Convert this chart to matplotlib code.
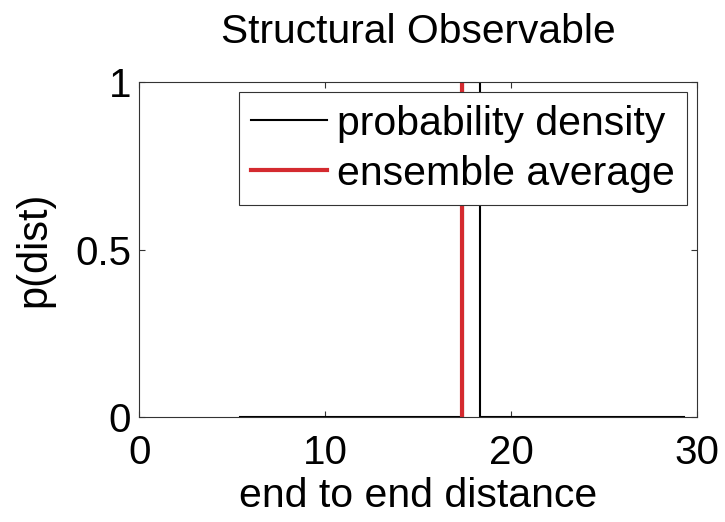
import matplotlib
matplotlib.use("Agg")
import matplotlib.pyplot as plt

# end-to-end distance histogram (step outline) and its ensemble mean
dist = [5.4, 17.4, 17.4, 18.3, 18.3, 29.3]
p_dist = [0, 0, 1, 1, 0, 0]
ensemble_mean = 17.35

x_ticks = [0, 10, 20, 30]
y_ticks = [0, 0.5, 1]
y_tick_labels = ["0", "0.5", "1"]

plt.rcParams['font.family'] = ['Liberation Sans', 'DejaVu Sans']
plt.rcParams['font.size'] = 29

fig = plt.figure(figsize=(7.25, 5.22), dpi=100)
ax = fig.add_axes([0.1924, 0.2011, 0.7696, 0.6418])

ax.plot(dist, p_dist, color='black', linewidth=1.5, label='probability density')
ax.plot([ensemble_mean, ensemble_mean], [0, 1], color='#d42a2f',
        linewidth=3, label='ensemble average')

ax.set_xlim(0, 30)
ax.set_ylim(0, 1)
ax.set_xticks(x_ticks)
ax.set_yticks(y_ticks)
ax.set_yticklabels(y_tick_labels)
ax.tick_params(direction='in', length=4, width=0.8, top=True, right=True,
               colors='#333333', labelcolor='black')
ax.tick_params(axis='x', pad=12)
ax.tick_params(axis='y', pad=6)
for s in ax.spines.values():
    s.set_color('#333333')
    s.set_linewidth(0.8)

ax.set_xlabel("end to end distance", fontsize=29.5, labelpad=4)
ax.set_ylabel("p(dist)", fontsize=30, labelpad=15)
ax.set_title("Structural Observable", pad=28, fontsize=29.3)

leg = ax.legend(loc='upper right', fancybox=False, framealpha=1,
                edgecolor='#333333', fontsize=29.5, handlelength=1.85,
                handletextpad=0.25, borderpad=0.3, labelspacing=0.3,
                borderaxespad=0.25)
leg.get_frame().set_linewidth(0.8)

fig.savefig("out.png", dpi=100)
